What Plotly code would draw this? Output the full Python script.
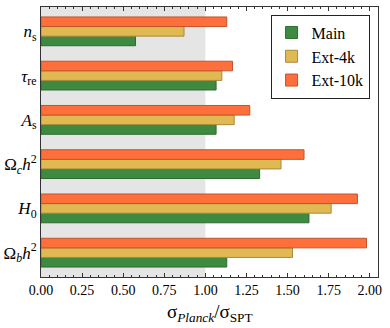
import plotly.graph_objects as go

# ─── Data ────────────────────────────────────────────────────────────────────
params = [
    "Ω<sub><i>b</i></sub><i>h</i><sup>2</sup>",
    "<i>H</i><sub>0</sub>",
    "Ω<sub><i>c</i></sub><i>h</i><sup>2</sup>",
    "<i>A</i><sub>s</sub>",
    "<i>τ</i><sub>re</sub>",
    "<i>n</i><sub>s</sub>",
]
main_vals = [1.13, 1.63, 1.33, 1.065, 1.065, 0.575]
ext4k_vals = [1.53, 1.765, 1.46, 1.175, 1.10, 0.87]
ext10k_vals = [1.98, 1.925, 1.60, 1.27, 1.165, 1.13]

series = [
    ("Main", main_vals, "#3e8a40", "#2f6a31"),
    ("Ext-4k", ext4k_vals, "#e1b953", "#a88a3c"),
    ("Ext-10k", ext10k_vals, "#ff6f3c", "#c0542d"),
]

FONT = "Liberation Serif, Times New Roman, serif"

fig = go.Figure()
ypos = list(range(len(params)))
for name, vals, color, edge in series:
    fig.add_trace(go.Bar(
        x=vals, y=ypos, name=name, orientation="h",
        marker=dict(color=color, line=dict(color=edge, width=1)),
    ))

# shaded region sigma ratio < 1
fig.add_vrect(x0=0, x1=1, fillcolor="#e5e5e5", line_width=0, layer="below")

# x-axis label as annotation for exact placement
fig.add_annotation(
    text="σ<sub><i>Planck</i></sub>/σ<sub>SPT</sub>",
    xref="paper", yref="paper", x=0.5, y=-0.135,
    xanchor="center", yanchor="middle", showarrow=False,
    font=dict(family=FONT, size=19),
)

fig.update_layout(
    width=390, height=328,
    margin=dict(l=41, r=12, t=7, b=51),
    paper_bgcolor="white", plot_bgcolor="white",
    barmode="group", bargap=0.35, bargroupgap=0,
    font=dict(family=FONT, size=14, color="black"),
    showlegend=True,
    legend=dict(
        x=0.975, y=0.972, xanchor="right", yanchor="top",
        bordercolor="#222", borderwidth=1, bgcolor="white",
        font=dict(family=FONT, size=16), traceorder="normal",
        itemwidth=30, tracegroupgap=2,
    ),
)
fig.update_xaxes(
    range=[0, 2.05], tick0=0, dtick=0.25, tickformat=".2f",
    ticks="inside", ticklen=4, tickcolor="#333",
    minor=dict(ticks="inside", dtick=0.05, ticklen=2, tickcolor="#333"),
    showline=True, linecolor="#333", linewidth=1, mirror="ticks",
    showgrid=False, zeroline=False, automargin=False,
    tickfont=dict(family=FONT, size=14),
)
fig.update_yaxes(
    range=[-0.55, 5.55], tickvals=ypos, ticktext=params,
    ticks="", showline=True, linecolor="#333", linewidth=1, mirror=True,
    showgrid=False, zeroline=False, automargin=False,
    tickfont=dict(family=FONT, size=17),
)

fig.write_html(
    "out.html",
    config={"displayModeBar": False},
    post_script="document.body.style.margin='0';",
)
